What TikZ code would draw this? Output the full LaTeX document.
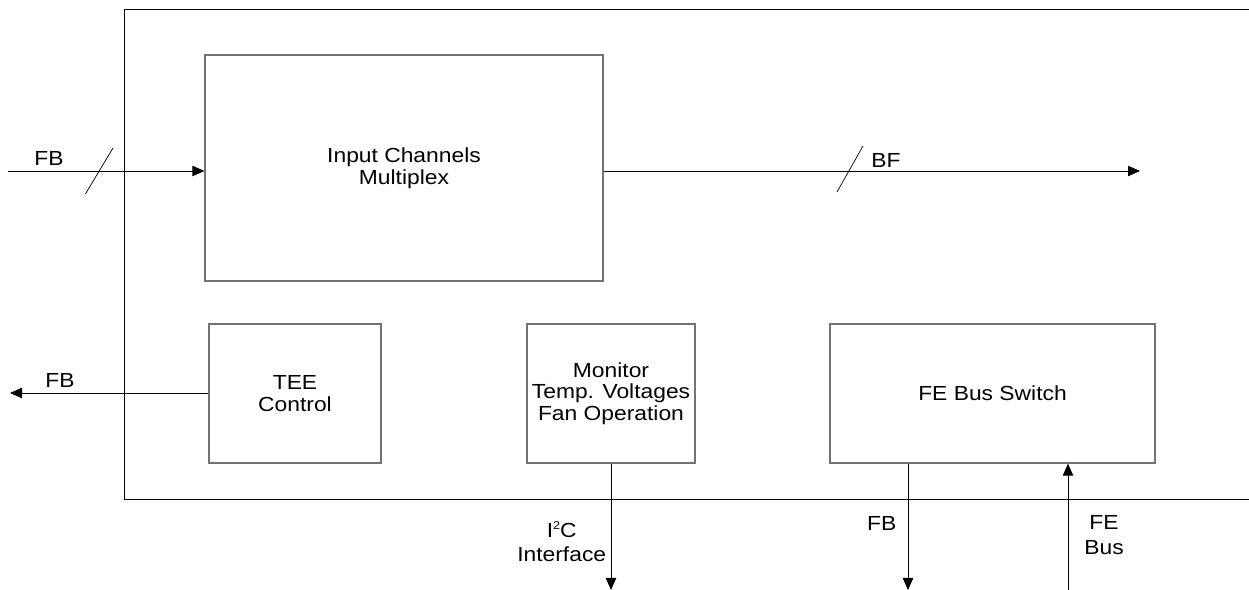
\documentclass[tikz,border=0pt]{standalone}
\usepackage{fontspec}
\setmainfont{Liberation Sans}[FakeStretch=1.12]
\usetikzlibrary{arrows.meta}
\begin{document}
\begin{tikzpicture}[>={Triangle[length=0.3cm,width=0.26cm]},
        block/.style={draw=black!55, line width=0.9pt, align=center, inner sep=0pt, font=\fontsize{14.5}{15.3}\selectfont},
        sig/.style={->, line width=0.6pt},
        lbl/.style={align=center, inner sep=1pt, font=\fontsize{14.5}{17.5}\selectfont}]
    \useasboundingbox (0,0) rectangle (31.225,14.75);
    % card outline, open to the right
    \draw[line width=0.6pt] (31.225,14.525) -- (3.1,14.525) -- (3.1,2.275) -- (31.225,2.275);
    \node[block, minimum width=9.95cm, minimum height=5.65cm] (mux) at (10.1,10.55) {Input Channels\\Multiplex};
    \node[block, minimum width=4.3cm, minimum height=3.475cm] (tee) at (7.375,4.9125) {TEE\\Control};
    \node[block, minimum width=4.2cm, minimum height=3.475cm] (mon) at (15.275,4.9125) {Monitor\\Temp. Voltages\\Fan Operation};
    \node[block, minimum width=8.125cm, minimum height=3.475cm] (fesw) at (24.8125,4.9125) {FE Bus Switch};
    \coordinate (fbin) at (0.2,10.475);
    \coordinate (bfout) at (28.5,10.475);
    \coordinate (fbout) at (0.25,4.925);
    \coordinate (i2c) at (mon.south |- 0,0);
    \coordinate (fbdown) at (22.7,0);
    \coordinate (febus) at (26.7,0);
    \draw[sig] (fbin) -- (mux.west |- fbin);
    \draw[sig] (mux.east |- bfout) -- (bfout);
    \draw[sig] (tee.west |- fbout) -- (fbout);
    \draw[sig] (mon.south) -- (i2c);
    \draw[sig] (fbdown |- fesw.south) -- (fbdown);
    \draw[sig] (febus) -- (febus |- fesw.south);
    % bus slashes
    \draw[line width=0.5pt] (2.135,9.9) -- (2.825,11.05);
    \draw[line width=0.5pt] (20.925,9.95) -- (21.575,11.1);
    \node[lbl] (fbinlbl) at (1.225,10.8) {FB};
    \node[lbl] (bflbl) at (22.15,10.75) {BF};
    \node[lbl] (fboutlbl) at (1.5,5.25) {FB};
    \node[lbl, anchor=east] (i2clbl) at ([xshift=-0.08cm]i2c |- 0,1.2) {I\raisebox{0.7ex}{\fontsize{8}{8}\selectfont 2}C\\Interface};
    \node[lbl, anchor=east] (fbdownlbl) at ([xshift=-0.25cm]fbdown |- 0,1.675) {FB};
    \node[lbl] (febuslbl) at (27.6,1.375) {FE\\Bus};
\end{tikzpicture}
\end{document}
